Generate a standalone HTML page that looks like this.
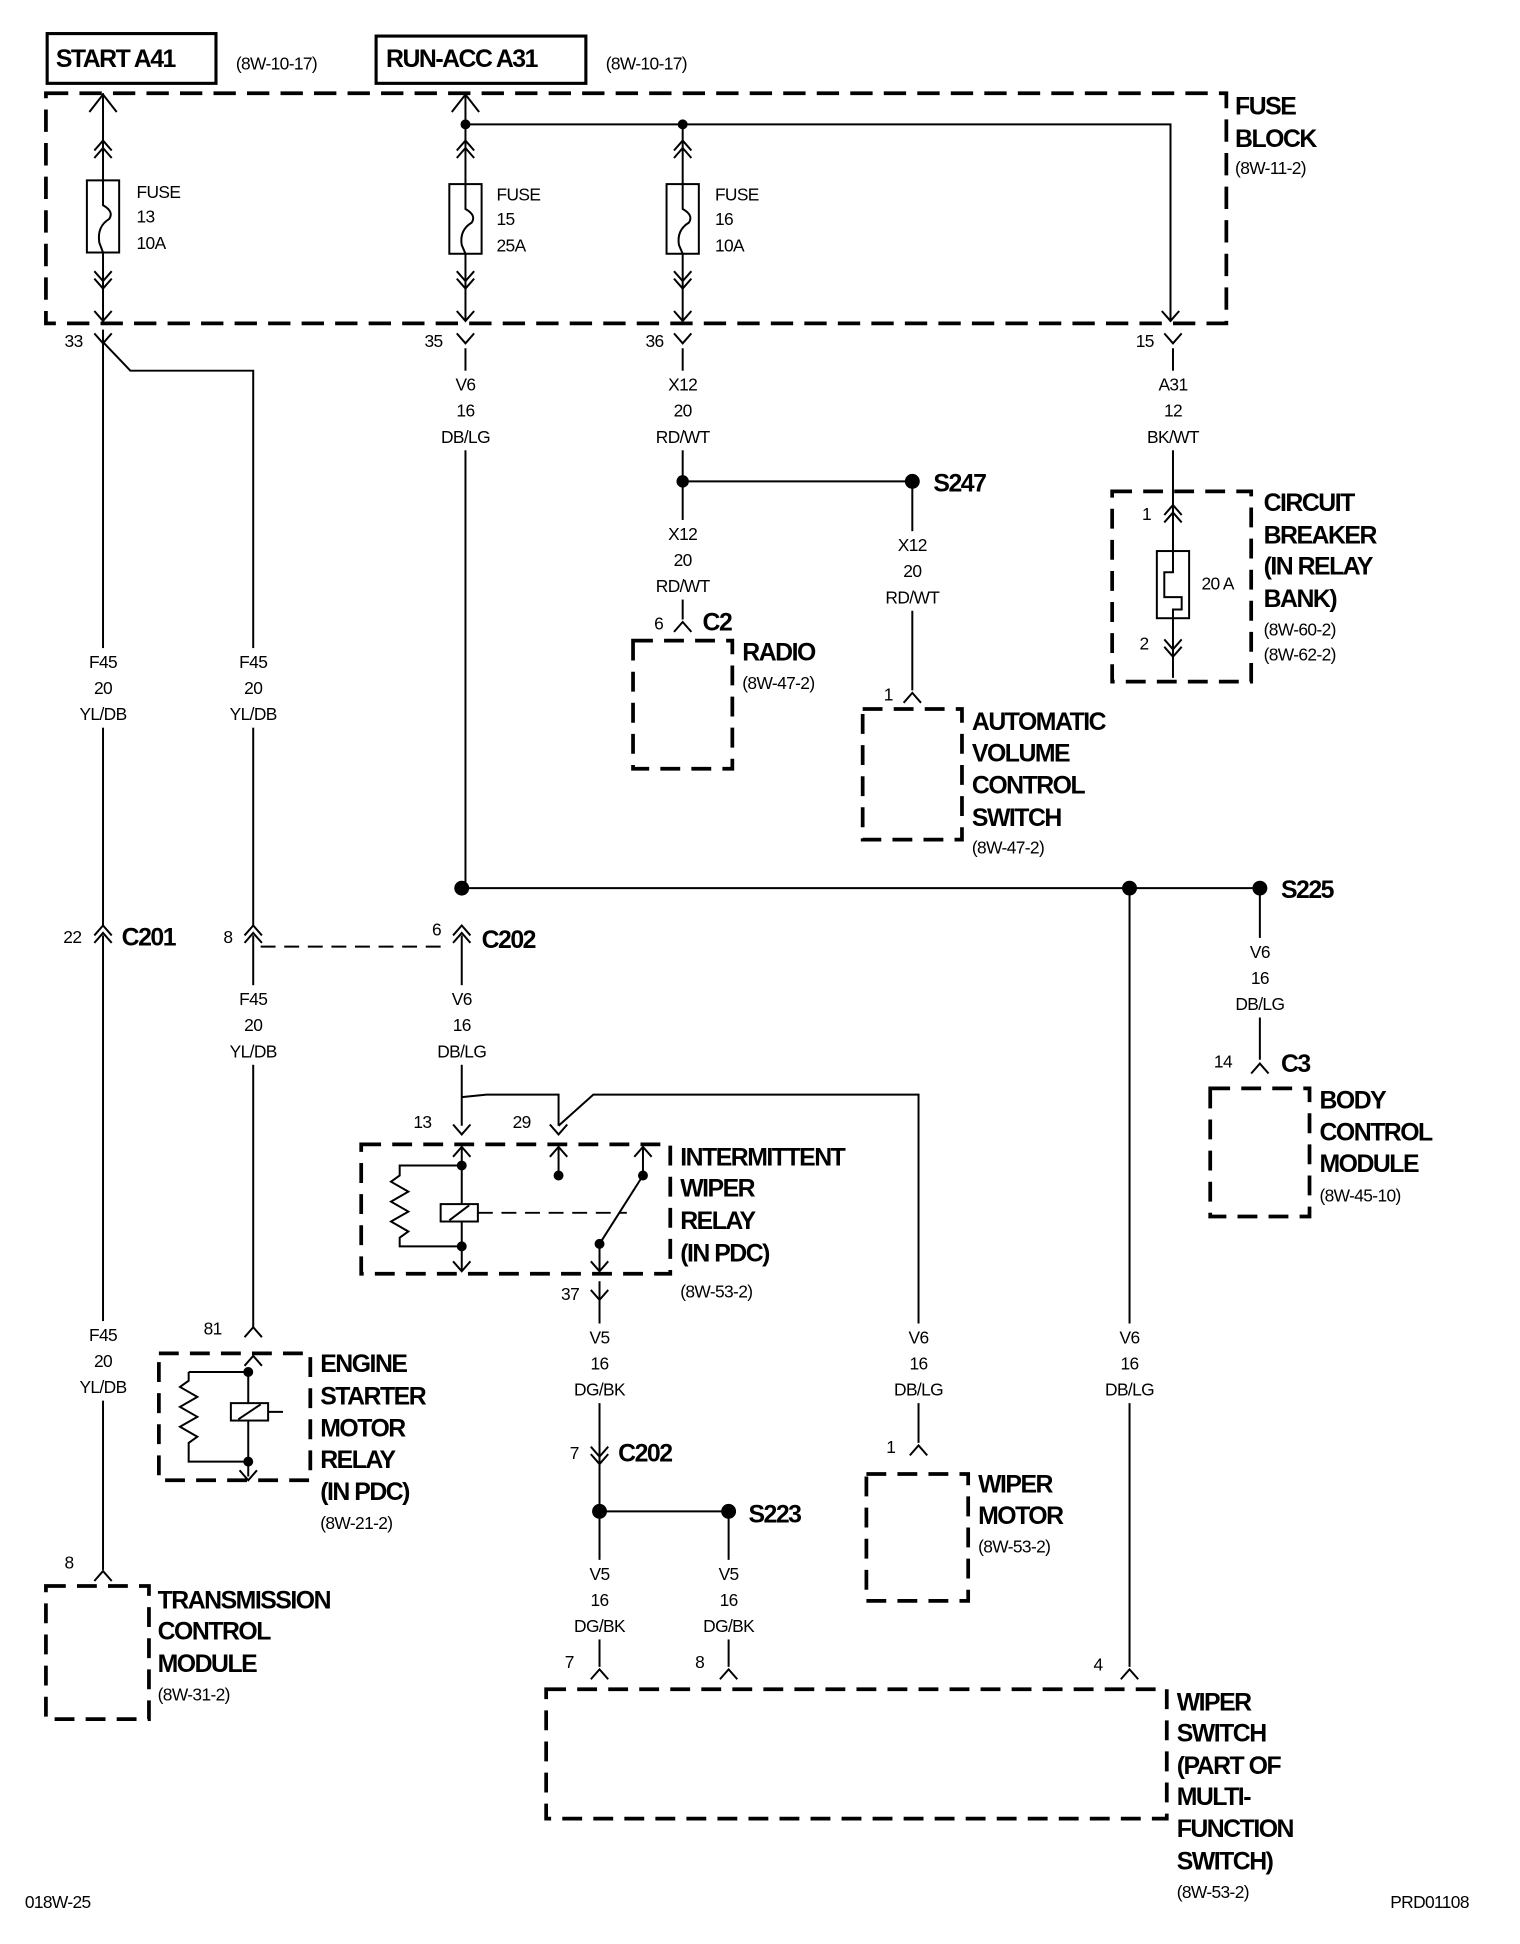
<!DOCTYPE html>
<html><head><meta charset="utf-8"><style>
html,body{margin:0;padding:0;background:#fff;}
svg{display:block}
text{font-family:"Liberation Sans",sans-serif;fill:#000}
.b{font-weight:bold;font-size:20px;letter-spacing:-1.2px}
.s{font-size:14px;letter-spacing:-0.5px}
.m{font-size:14px;text-anchor:middle;letter-spacing:-0.5px}
</style></head><body>
<svg width="1520" height="1944" viewBox="0 0 1216 1555" preserveAspectRatio="none" xmlns="http://www.w3.org/2000/svg">
<defs>
<path id="u2" d="M-7,8 L0,0 L7,8 M-7,14 L0,6 L7,14" fill="none" stroke="#000" stroke-width="1.6"/>
<path id="d2" d="M-7,-8 L0,0 L7,-8 M-7,-14 L0,-6 L7,-14" fill="none" stroke="#000" stroke-width="1.6"/>
<path id="cap" d="M-7,8 L0,0 L7,8" fill="none" stroke="#000" stroke-width="1.6"/>
<path id="vee" d="M-7,-8 L0,0 L7,-8" fill="none" stroke="#000" stroke-width="1.6"/>
<rect id="lb" x="-24" y="-16" width="48" height="64" fill="#fff"/>
</defs>
<g transform="scale(0.993,0.995)">
<g fill="none" stroke="#000">
<rect x="38" y="27" width="136" height="40" stroke-width="2.5"/>
<rect x="303" y="29" width="169" height="38" stroke-width="2.5"/>
<rect x="37" y="75" width="951" height="185" stroke-width="3" stroke-dasharray="18,9"/>
<g stroke-width="1.6">
<path d="M83,75 V258 M375,75 V258 M550,100 V258 M375,100 H943 V258"/>
<path d="M83,265 V745 M83,275 L105,298 H204 V745"/>
<path d="M375,280 V714 M372,714 H1015 M910,714 V1340"/>
<path d="M550,280 V387 H735 M550,387 V498 M735,387 V555 M945,280 V545"/>
<path d="M1015,714 V852"/>
<path d="M83,752 V1262 M204,752 V1068 M372,752 V905"/>
<path d="M372,882 L392,880 H450 V905 M450,905 L478,880 H740 V1160"/>
<path d="M483,1030 V1215 H587 M483,1215 V1340 M587,1215 V1340"/>
<path d="M72,90 L83,76 L94,90" />
<path d="M364,90 L375,76 L386,90" />
</g>
<path d="M210,761 H360" stroke-width="1.6" stroke-dasharray="12,7"/>
<g stroke-width="1.6" fill="#fff">
<rect x="70" y="145" width="26" height="58"/>
<rect x="362" y="148" width="26" height="56"/>
<rect x="537" y="148" width="26" height="56"/>
</g>
<g stroke-width="1.6">
<path d="M83,145 V165 Q92,170 88,176 Q78,182 80,195 L83,203"/>
<path d="M375,148 V168 Q384,173 380,179 Q370,185 372,197 L375,204"/>
<path d="M550,148 V168 Q559,173 555,179 Q545,185 547,197 L550,204"/>
</g>
<g stroke-width="3" stroke-dasharray="16,9">
<rect x="510" y="515" width="80" height="103"/>
<rect x="695" y="570" width="80" height="105"/>
<rect x="896" y="395" width="112" height="153"/>
<rect x="975" y="875" width="80" height="103"/>
<rect x="291" y="920" width="249" height="104"/>
<rect x="128" y="1088" width="122" height="102"/>
<rect x="698" y="1185" width="82" height="102"/>
<rect x="37" y="1275" width="83" height="107"/>
<rect x="440" y="1358" width="500" height="104"/>
</g>
<rect x="932" y="443" width="26" height="54" stroke-width="1.6" fill="#fff"/>
<path d="M945,443 V460 H938 V480 H952 V490 H945 V497" stroke-width="1.6"/>
<g stroke-width="1.6">
<path d="M372,937 H322 V945 L315,950 L329,958 L315,966 L329,974 L315,982 L329,990 L322,995 V1002 H372"/>
<path d="M372,922 V1022 M450,922 V945 M483,1000 V1022 M483,1000 L518,945 V922"/>
<rect x="355" y="968" width="30" height="14" fill="#fff"/>
<path d="M362,981 L378,969"/>
<path d="M152,1103 H200 V1187 M152,1103 V1110 L145,1115 L159,1123 L145,1131 L159,1139 L145,1147 L159,1155 L152,1160 V1175 H200"/>
<rect x="186" y="1128" width="30" height="14" fill="#fff"/>
<path d="M192,1141 L210,1129 M216,1135 H228"/>
</g>
<path d="M385,975 H505" stroke-width="1.6" stroke-dasharray="12,7"/>
</g>
<use href="#lb" x="375" y="314"/><use href="#lb" x="550" y="314"/><use href="#lb" x="945" y="314"/>
<use href="#lb" x="550" y="434"/><use href="#lb" x="735" y="443"/>
<use href="#lb" x="83" y="537"/><use href="#lb" x="204" y="537"/>
<use href="#lb" x="1015" y="770"/><use href="#lb" x="204" y="808"/><use href="#lb" x="372" y="808"/>
<use href="#lb" x="83" y="1078"/><use href="#lb" x="483" y="1080"/><use href="#lb" x="740" y="1080"/><use href="#lb" x="910" y="1080"/>
<use href="#lb" x="483" y="1270"/><use href="#lb" x="587" y="1270"/>
<g fill="#000">
<circle cx="375" cy="100" r="4"/><circle cx="550" cy="100" r="4"/>
<circle cx="550" cy="387" r="5"/><circle cx="735" cy="387" r="6"/>
<circle cx="372" cy="714" r="6"/><circle cx="910" cy="714" r="6"/><circle cx="1015" cy="714" r="6"/>
<circle cx="372" cy="937" r="4"/><circle cx="372" cy="1002" r="4"/>
<circle cx="450" cy="945" r="4"/><circle cx="518" cy="945" r="4"/><circle cx="483" cy="1000" r="4"/>
<circle cx="200" cy="1103" r="4"/><circle cx="200" cy="1175" r="4"/>
<circle cx="483" cy="1215" r="6"/><circle cx="587" cy="1215" r="6"/>
</g>
<use href="#u2" x="83" y="113"/><use href="#u2" x="375" y="113"/><use href="#u2" x="550" y="113"/>
<use href="#d2" x="83" y="232"/><use href="#d2" x="375" y="232"/><use href="#d2" x="550" y="232"/>
<use href="#vee" x="83" y="258"/><use href="#vee" x="375" y="258"/><use href="#vee" x="550" y="258"/><use href="#vee" x="943" y="258"/>
<use href="#vee" x="83" y="276"/><use href="#vee" x="375" y="276"/><use href="#vee" x="550" y="276"/><use href="#vee" x="945" y="276"/>
<use href="#u2" x="945" y="406"/><use href="#d2" x="945" y="528"/>
<use href="#cap" x="550" y="500"/><use href="#cap" x="735" y="557"/><use href="#cap" x="1015" y="855"/>
<use href="#u2" x="83" y="744"/><use href="#u2" x="204" y="744"/><use href="#u2" x="372" y="744"/>
<use href="#vee" x="372" y="912"/><use href="#vee" x="450" y="912"/>
<use href="#cap" x="372" y="922"/><use href="#cap" x="450" y="922"/><use href="#cap" x="518" y="922"/>
<use href="#vee" x="372" y="1022"/><use href="#vee" x="483" y="1022"/><use href="#vee" x="483" y="1045"/>
<use href="#cap" x="204" y="1067"/><use href="#cap" x="204" y="1090"/><use href="#vee" x="200" y="1190"/>
<use href="#d2" x="483" y="1177"/><use href="#cap" x="740" y="1162"/>
<use href="#cap" x="83" y="1263"/><use href="#cap" x="483" y="1342"/><use href="#cap" x="587" y="1342"/><use href="#cap" x="910" y="1342"/>
<text x="45" y="54" class="b">START A41</text>
<text x="311" y="54" class="b">RUN-ACC A31</text>
<text x="190" y="56" class="s">(8W-10-17)</text>
<text x="488" y="56" class="s">(8W-10-17)</text>
<text x="995" y="92" class="b">FUSE</text><text x="995" y="118" class="b">BLOCK</text><text x="995" y="140" class="s">(8W-11-2)</text>
<text class="s" x="110" y="159">FUSE</text><text class="s" x="110" y="179">13</text><text class="s" x="110" y="200">10A</text>
<text class="s" x="400" y="161">FUSE</text><text class="s" x="400" y="181">15</text><text class="s" x="400" y="202">25A</text>
<text class="s" x="576" y="161">FUSE</text><text class="s" x="576" y="181">16</text><text class="s" x="576" y="202">10A</text>
<text class="s" x="52" y="279">33</text><text class="s" x="342" y="279">35</text><text class="s" x="520" y="279">36</text><text class="s" x="915" y="279">15</text>
<text class="m" x="375" y="314">V6</text><text class="m" x="375" y="335">16</text><text class="m" x="375" y="356">DB/LG</text>
<text class="m" x="550" y="314">X12</text><text class="m" x="550" y="335">20</text><text class="m" x="550" y="356">RD/WT</text>
<text class="m" x="945" y="314">A31</text><text class="m" x="945" y="335">12</text><text class="m" x="945" y="356">BK/WT</text>
<text class="b" x="752" y="395">S247</text>
<text class="m" x="550" y="434">X12</text><text class="m" x="550" y="455">20</text><text class="m" x="550" y="476">RD/WT</text>
<text class="m" x="735" y="443">X12</text><text class="m" x="735" y="464">20</text><text class="m" x="735" y="485">RD/WT</text>
<text class="s" x="527" y="506">6</text><text class="b" x="566" y="507">C2</text>
<text class="b" x="598" y="531">RADIO</text><text class="s" x="598" y="554">(8W-47-2)</text>
<text class="s" x="712" y="563">1</text>
<text class="b" x="783" y="587">AUTOMATIC</text><text class="b" x="783" y="612">VOLUME</text><text class="b" x="783" y="638">CONTROL</text><text class="b" x="783" y="664">SWITCH</text><text class="s" x="783" y="686">(8W-47-2)</text>
<text class="s" x="920" y="418">1</text><text class="s" x="918" y="522">2</text><text class="s" x="968" y="474">20 A</text>
<text class="b" x="1018" y="411">CIRCUIT</text><text class="b" x="1018" y="437">BREAKER</text><text class="b" x="1018" y="462">(IN RELAY</text><text class="b" x="1018" y="488">BANK)</text>
<text class="s" x="1018" y="511">(8W-60-2)</text><text class="s" x="1018" y="531">(8W-62-2)</text>
<text class="m" x="83" y="537">F45</text><text class="m" x="83" y="558">20</text><text class="m" x="83" y="579">YL/DB</text>
<text class="m" x="204" y="537">F45</text><text class="m" x="204" y="558">20</text><text class="m" x="204" y="579">YL/DB</text>
<text class="b" x="1032" y="722">S225</text>
<text class="s" x="51" y="758">22</text><text class="b" x="98" y="760">C201</text>
<text class="s" x="180" y="758">8</text><text class="s" x="348" y="752">6</text><text class="b" x="388" y="762">C202</text>
<text class="m" x="1015" y="770">V6</text><text class="m" x="1015" y="791">16</text><text class="m" x="1015" y="812">DB/LG</text>
<text class="m" x="204" y="808">F45</text><text class="m" x="204" y="829">20</text><text class="m" x="204" y="850">YL/DB</text>
<text class="m" x="372" y="808">V6</text><text class="m" x="372" y="829">16</text><text class="m" x="372" y="850">DB/LG</text>
<text class="s" x="978" y="858">14</text><text class="b" x="1032" y="862">C3</text>
<text class="b" x="1063" y="891">BODY</text><text class="b" x="1063" y="917">CONTROL</text><text class="b" x="1063" y="942">MODULE</text><text class="s" x="1063" y="966">(8W-45-10)</text>
<text class="s" x="333" y="907">13</text><text class="s" x="413" y="907">29</text>
<text class="b" x="548" y="937">INTERMITTENT</text><text class="b" x="548" y="962">WIPER</text><text class="b" x="548" y="988">RELAY</text><text class="b" x="548" y="1014">(IN PDC)</text><text class="s" x="548" y="1043">(8W-53-2)</text>
<text class="s" x="452" y="1045">37</text>
<text class="s" x="164" y="1073">81</text>
<text class="m" x="83" y="1078">F45</text><text class="m" x="83" y="1099">20</text><text class="m" x="83" y="1120">YL/DB</text>
<text class="m" x="483" y="1080">V5</text><text class="m" x="483" y="1101">16</text><text class="m" x="483" y="1122">DG/BK</text>
<text class="m" x="740" y="1080">V6</text><text class="m" x="740" y="1101">16</text><text class="m" x="740" y="1122">DB/LG</text>
<text class="m" x="910" y="1080">V6</text><text class="m" x="910" y="1101">16</text><text class="m" x="910" y="1122">DB/LG</text>
<text class="b" x="258" y="1103">ENGINE</text><text class="b" x="258" y="1129">STARTER</text><text class="b" x="258" y="1155">MOTOR</text><text class="b" x="258" y="1180">RELAY</text><text class="b" x="258" y="1206">(IN PDC)</text><text class="s" x="258" y="1229">(8W-21-2)</text>
<text class="s" x="459" y="1173">7</text><text class="b" x="498" y="1175">C202</text>
<text class="s" x="714" y="1168">1</text>
<text class="b" x="788" y="1200">WIPER</text><text class="b" x="788" y="1225">MOTOR</text><text class="s" x="788" y="1248">(8W-53-2)</text>
<text class="b" x="603" y="1224">S223</text>
<text class="s" x="52" y="1261">8</text>
<text class="m" x="483" y="1270">V5</text><text class="m" x="483" y="1291">16</text><text class="m" x="483" y="1312">DG/BK</text>
<text class="m" x="587" y="1270">V5</text><text class="m" x="587" y="1291">16</text><text class="m" x="587" y="1312">DG/BK</text>
<text class="b" x="127" y="1293">TRANSMISSION</text><text class="b" x="127" y="1318">CONTROL</text><text class="b" x="127" y="1344">MODULE</text><text class="s" x="127" y="1367">(8W-31-2)</text>
<text class="s" x="455" y="1341">7</text><text class="s" x="560" y="1341">8</text><text class="s" x="881" y="1343">4</text>
<text class="b" x="948" y="1375">WIPER</text><text class="b" x="948" y="1400">SWITCH</text><text class="b" x="948" y="1426">(PART OF</text><text class="b" x="948" y="1451">MULTI-</text><text class="b" x="948" y="1477">FUNCTION</text><text class="b" x="948" y="1503">SWITCH)</text><text class="s" x="948" y="1526">(8W-53-2)</text>
<text class="s" x="20" y="1534">018W-25</text><text class="s" x="1120" y="1534">PRD01108</text>
</g>
</svg>
</body></html>
